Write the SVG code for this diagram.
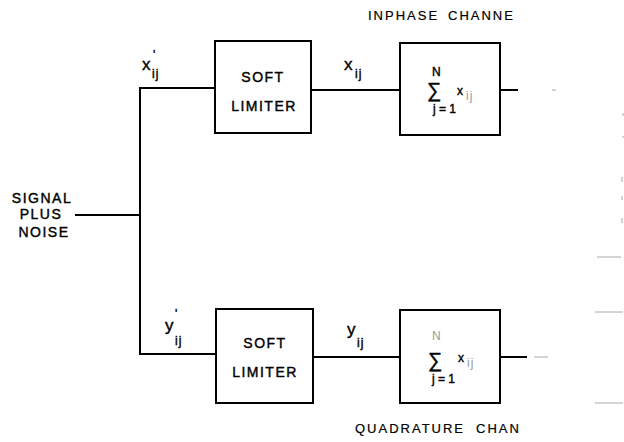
<svg xmlns="http://www.w3.org/2000/svg" width="624" height="442" viewBox="0 0 624 442">
<style>
.box{fill:#fff;stroke:#000;stroke-width:2}
.ln{fill:none;stroke:#000;stroke-width:2}
.faint{fill:none;stroke:#aaa;stroke-width:1}
text{font-family:"Liberation Sans",Arial,sans-serif;fill:#000;stroke:#000;stroke-width:0.4}
.lbl{font-size:14px;text-anchor:middle;letter-spacing:1.5px}
.var{font-size:17px}
.sub{font-size:12px;letter-spacing:1px}
.cap{font-size:13px;letter-spacing:2px;stroke-width:0.2}
.sm{font-size:12px}
.gray{fill:#999;stroke:none}
</style>
<rect width="624" height="442" fill="#fff"/>
<g id="connectors">
<path class="ln" d="M75 215 H140"/>
<path class="ln" d="M215 88 H140 V354 H216"/>
<path class="ln" d="M311 90 H400"/>
<path class="ln" d="M500 90 H518"/>
<path class="ln" d="M313 357 H400"/>
<path class="ln" d="M500 357 H527"/>
<path class="faint" d="M534 357 H548 M552 90 H556 M597 257 H621 M595 312 H623 M595 403 H623 M622 177 V182 M622 196 V200 M622 218 V223 M623 113 V116 M623 136 V138 M476 84 V100"/>
</g>
<g id="input">
<text class="lbl" x="42" y="203">SIGNAL</text>
<text class="lbl" x="41" y="219">PLUS</text>
<text class="lbl" x="44" y="237">NOISE</text>
</g>
<g id="labels">
<text class="var" x="142" y="70">x</text><text class="sub" x="153" y="59">'</text><text class="sub" x="152" y="78">ij</text>
<text class="var" x="344" y="70">x</text><text class="sub" x="355" y="78">ij</text>
<text class="var" x="165" y="331">y</text><text class="sub" x="175" y="318">'</text><text class="sub" x="175" y="345">ij</text>
<text class="var" x="347" y="335">y</text><text class="sub" x="357" y="347">ij</text>
<text class="cap" x="368" y="20">INPHASE</text>
<text class="cap" x="448" y="20">CHANNE</text>
<text class="cap" x="355" y="433">QUADRATURE</text>
<text class="cap" x="476" y="433">CHAN</text>
</g>
<g id="limiter1">
<rect class="box" x="215" y="41" width="96" height="92"/>
<text class="lbl" x="263" y="82">SOFT</text>
<text class="lbl" x="264" y="111">LIMITER</text>
</g>
<g id="limiter2">
<rect class="box" x="216" y="309" width="97" height="94"/>
<text class="lbl" x="265" y="348">SOFT</text>
<text class="lbl" x="265" y="377">LIMITER</text>
</g>
<g id="sum1">
<rect class="box" x="400" y="43" width="100" height="92"/>
<text class="sm" x="432" y="76">N</text>
<text x="427" y="97" font-size="20" stroke-width="0.2">∑</text>
<text class="sm" x="457" y="95">x</text>
<text class="sub gray" x="466" y="100">ij</text>
<text class="sm" x="433" y="113">j = 1</text>
</g>
<g id="sum2">
<rect class="box" x="400" y="310" width="100" height="93"/>
<text class="sm gray" x="432" y="340">N</text>
<text x="428" y="367" font-size="20" stroke-width="0.2">∑</text>
<text class="sm" x="458" y="362">x</text>
<text class="sub gray" x="467" y="367">ij</text>
<text class="sm" x="432" y="383">j = 1</text>
</g>
</svg>
